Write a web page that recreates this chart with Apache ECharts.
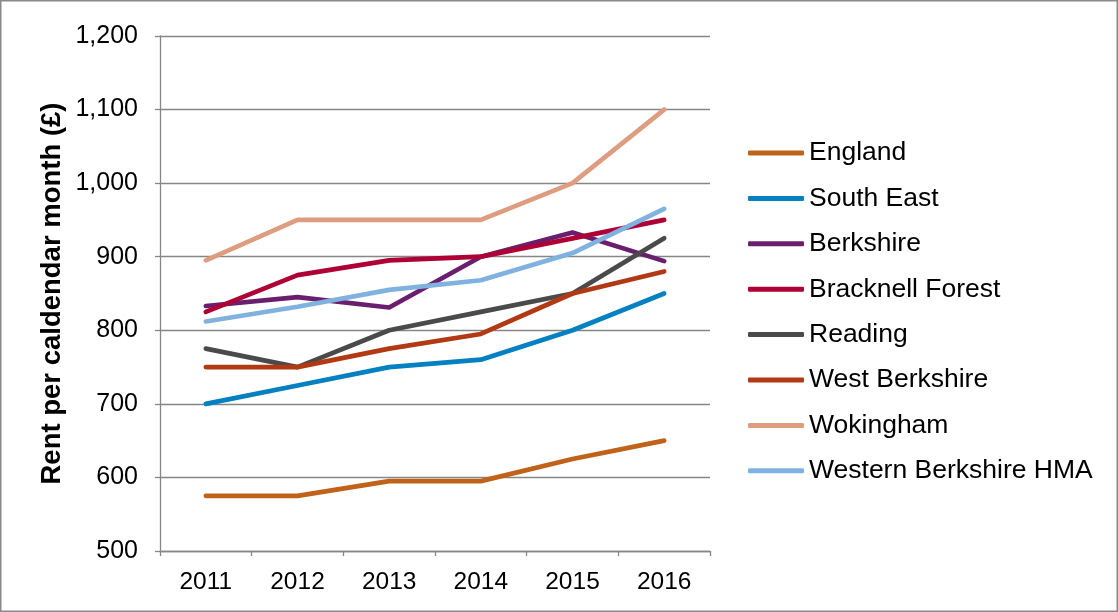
<!DOCTYPE html>
<html>
<head>
<meta charset="utf-8">
<script src="https://cdn.jsdelivr.net/npm/echarts@6/dist/echarts.min.js"></script>
<style>
html,body{margin:0;padding:0;background:#fff;}
#chart{width:1118px;height:612px;}
</style>
</head>
<body>
<div id="chart"></div>
<script>
const categories = ['2011','2012','2013','2014','2015','2016'];
const england = [575, 575, 595, 595, 625, 650];
const southEast = [700, 725, 750, 760, 800, 850];
const berkshire = [833, 845, 831, 900, 933, 894];
const bracknellForest = [825, 875, 895, 900, 925, 950];
const reading = [775, 750, 800, 825, 850, 925];
const westBerkshire = [750, 750, 775, 795, 850, 880];
const wokingham = [895, 950, 950, 950, 1000, 1100];
const westernBerkshireHMA = [812, 832, 855, 868, 905, 965];

const seriesDefs = [
  ['England', england, '#C0621A'],
  ['South East', southEast, '#0580C0'],
  ['Berkshire', berkshire, '#6A1F6E'],
  ['Bracknell Forest', bracknellForest, '#AE0236'],
  ['Reading', reading, '#4A4A4A'],
  ['West Berkshire', westBerkshire, '#B13A15'],
  ['Wokingham', wokingham, '#DE9D80'],
  ['Western Berkshire HMA', westernBerkshireHMA, '#80B2E0']
];

const font = '"Liberation Sans", Arial, sans-serif';
const chart = echarts.init(document.getElementById('chart'), null, {renderer:'canvas'});
chart.setOption({
  animation: false,
  backgroundColor: '#fff',
  textStyle: {fontFamily: font},
  graphic: [{
    type: 'rect', silent: true, z: 100,
    shape: {x: 0.75, y: 0.75, width: 1116.5, height: 610.5},
    style: {fill: 'none', stroke: '#898989', lineWidth: 1.5}
  }],
  grid: {left: 160, right: 408, top: 36, bottom: 61, containLabel: false},
  legend: {
    orient: 'vertical',
    left: 743,
    top: 133,
    icon: 'roundRect',
    itemWidth: 56,
    itemHeight: 5,
    itemGap: 15.4,
    textStyle: {fontSize: 26.5, color: '#000', fontFamily: font, lineHeight: 30},
    data: seriesDefs.map(d => d[0])
  },
  xAxis: {
    type: 'category',
    data: categories,
    boundaryGap: true,
    axisLine: {lineStyle: {color: '#868686', width: 1.3}},
    axisTick: {show: true, length: 5, lineStyle: {color: '#868686', width: 1.3}},
    axisLabel: {fontSize: 24.5, color: '#000', margin: 19, fontFamily: font}
  },
  yAxis: {
    type: 'value',
    min: 500, max: 1200, interval: 100,
    name: 'Rent per caldendar month (£)',
    nameLocation: 'middle',
    nameGap: 93.5,
    nameRotate: 90,
    nameTextStyle: {fontSize: 27.5, fontWeight: 'bold', color: '#000', fontFamily: font},
    axisLine: {show: true, lineStyle: {color: '#868686', width: 1.3}},
    axisTick: {show: true, length: 5, lineStyle: {color: '#868686', width: 1.3}},
    splitLine: {show: true, lineStyle: {color: '#868686', width: 1.3}},
    axisLabel: {
      fontSize: 25, color: '#000', margin: 22, fontFamily: font,
      formatter: v => v.toLocaleString('en-GB')
    }
  },
  series: seriesDefs.map(d => ({
    name: d[0],
    type: 'line',
    data: d[1],
    symbol: 'none',
    showSymbol: false,
    color: d[2],
    lineStyle: {width: 4.7, color: d[2], cap: 'round', join: 'round'},
    itemStyle: {color: d[2]}
  }))
});
</script>
</body>
</html>
